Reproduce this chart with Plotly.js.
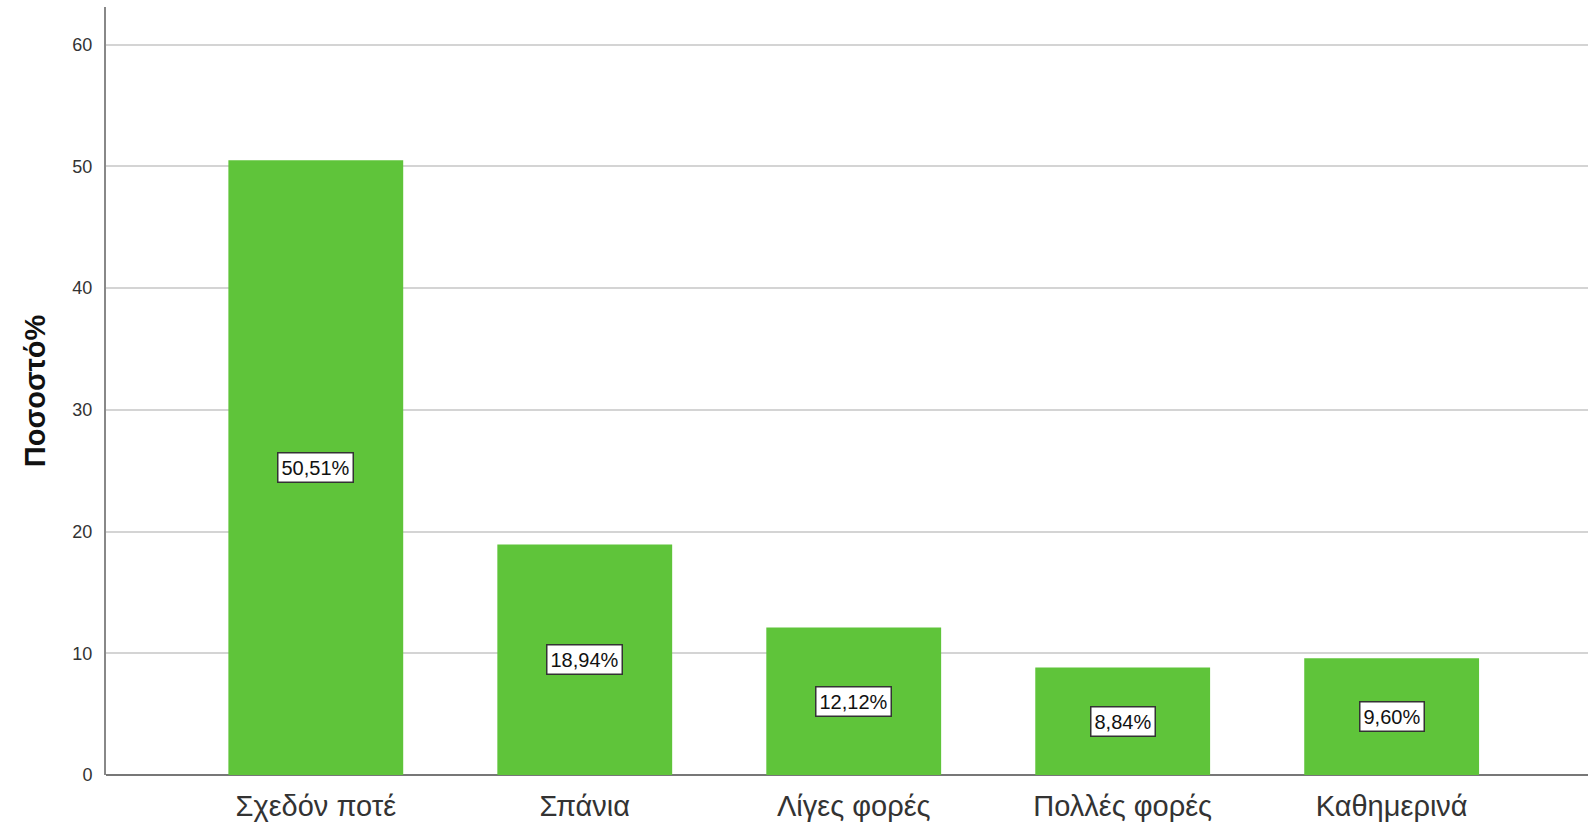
<!DOCTYPE html>
<html>
<head>
<meta charset="utf-8">
<script src="https://cdn.plot.ly/plotly-3.0.1.min.js"></script>
<style>html,body{margin:0;padding:0;background:#fff;}#chart{width:1588px;height:826px;}</style>
</head>
<body>
<div id="chart"></div>
<script>
const categories = ["Σχεδόν ποτέ", "Σπάνια", "Λίγες φορές", "Πολλές φορές", "Καθημερινά"];
const percentages = [50.51, 18.94, 12.12, 8.84, 9.60];
const labelTexts = ["50,51%", "18,94%", "12,12%", "8,84%", "9,60%"];
const yTicks = [0, 10, 20, 30, 40, 50, 60];

const FONT = "Liberation Sans, Arial, sans-serif";

const trace = {
  type: "bar",
  x: categories.map((c, i) => i),
  y: percentages,
  marker: { color: "#5fc43a", line: { width: 0 } },
  hoverinfo: "none"
};

const annotations = percentages.map((v, i) => ({
  x: i, y: v / 2, xref: "x", yref: "y",
  text: labelTexts[i],
  showarrow: false,
  bgcolor: "#ffffff",
  bordercolor: "#333333",
  borderwidth: 1.5,
  borderpad: 3,
  font: { family: FONT, size: 20, color: "#111" }
}));

const layout = {
  width: 1588, height: 826,
  margin: { l: 106, r: 0, t: 7, b: 51 },
  paper_bgcolor: "#fff", plot_bgcolor: "#fff",
  showlegend: false,
  bargap: 0.35,
  xaxis: {
    range: [-0.78, 4.73],
    tickmode: "array",
    tickvals: categories.map((c, i) => i),
    ticktext: categories,
    tickfont: { family: FONT, size: 29, color: "#333" },
    showgrid: false, zeroline: false,
    showline: false, ticks: "", ticklabelstandoff: 11
  },
  yaxis: {
    range: [0, 63.1],
    tickmode: "array",
    tickvals: yTicks,
    ticktext: yTicks.map(String),
    tickfont: { family: FONT, size: 18, color: "#333" },
    showgrid: true, gridcolor: "#d4d4d4", gridwidth: 2,
    zeroline: true, zerolinecolor: "#777", zerolinewidth: 2,
    showline: true, linecolor: "#888", linewidth: 2,
    ticks: "", ticklabelstandoff: 8,
    title: { text: "<b>Ποσοστό%</b>", font: { family: FONT, size: 29, color: "#111" }, standoff: 18 }
  },
  annotations: annotations
};

Plotly.newPlot("chart", [trace], layout, { displayModeBar: false, staticPlot: true });
</script>
</body>
</html>
